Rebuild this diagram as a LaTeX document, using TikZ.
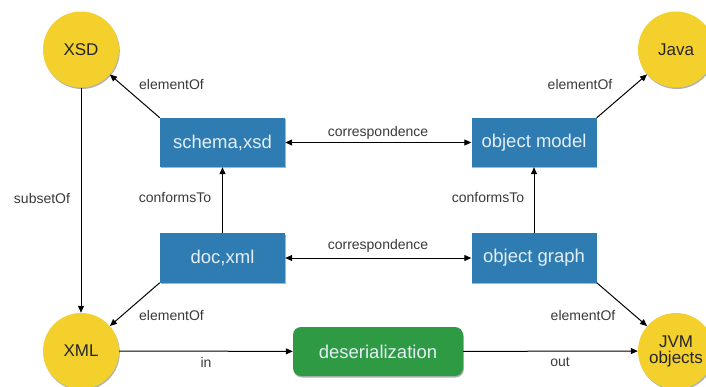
\documentclass[tikz,border=0pt]{standalone}
\usepackage{fontspec}
\setmainfont{Liberation Sans}
\usetikzlibrary{arrows.meta,shadows}
\definecolor{setyellow}{HTML}{F4D02C}
\definecolor{modelblue}{HTML}{2E7CB1}
\definecolor{procgreen}{HTML}{2F9A44}
\definecolor{labelgray}{HTML}{3A3A3A}
\definecolor{boxtext}{HTML}{E4EEF6}

\begin{document}
\begin{tikzpicture}[x=1pt,y=-1pt,
  softshadow/.style={drop shadow={shadow xshift=0.8pt,shadow yshift=-1.5pt,opacity=0.3,fill=black}},
  setnode/.style={circle,fill=setyellow,minimum size=76pt,inner sep=0pt,
    font=\fontsize{17}{18}\selectfont,text=black!85,align=center,softshadow},
  modelbox/.style={rectangle,fill=modelblue,minimum width=125pt,minimum height=49pt,
    inner sep=0pt,text=boxtext,font=\fontsize{18.5}{20}\selectfont,softshadow},
  procbox/.style={rectangle,rounded corners=8pt,fill=procgreen,minimum width=170pt,
    minimum height=49pt,inner sep=0pt,text=boxtext,font=\fontsize{18.5}{20}\selectfont,softshadow},
  rel/.style={-{Triangle[length=7pt,width=6pt]},line width=1pt,black},
  both/.style={{Triangle[length=7pt,width=6pt]}-{Triangle[length=7pt,width=6pt]},line width=1pt,black},
  lab/.style={font=\fontsize{14}{15}\selectfont,text=labelgray,inner sep=0pt}
]
\useasboundingbox[fill=white] (0,0) rectangle (706,387);

% sets
\node[setnode] (xsd)  at (81,49.5)  {XSD};
\node[setnode] (java) at (676,49.5) {Java};
\node[setnode] (xml)  at (81,351)   {XML};
\node[setnode] (jvm)  at (676,351)  {JVM\\[-2pt]objects};

% models
\node[modelbox] (schema) at (222.5,142.5) {schema,xsd};
\node[modelbox] (omodel) at (534,142.5)   {object model};
\node[modelbox] (doc)    at (222.5,258)   {doc,xml};
\node[modelbox] (ograph) at (534,258)     {object graph};

% process
\node[procbox] (deser) at (378,351.5) {deserialization};

% relations
\draw[rel] (schema.north west) -- (xsd);
\draw[rel] (omodel.north east) -- (java);
\draw[rel] (doc.south west) -- (xml);
\draw[rel] (ograph.south east) -- (jvm);
\draw[rel] (xsd) -- (xml);
\draw[rel] (doc) -- (schema);
\draw[rel] (ograph) -- (omodel);
\draw[both] (schema) -- (omodel);
\draw[both] (doc) -- (ograph);
\draw[rel] (xml) -- (deser);
\draw[rel] (deser) -- (jvm);

% labels
\node[lab] (l1)  at (171.5,84)  {elementOf};
\node[lab] (l2)  at (580,84)    {elementOf};
\node[lab] (l3)  at (171.5,315) {elementOf};
\node[lab] (l4)  at (583,315)   {elementOf};
\node[lab] (l5)  at (42,198)    {subsetOf};
\node[lab] (l6)  at (175,198)   {conformsTo};
\node[lab] (l7)  at (488,198)   {conformsTo};
\node[lab] (l8)  at (378,133)   {correspondence};
\node[lab] (l9)  at (378,246)   {correspondence};
\node[lab] (l10) at (206,362)   {in};
\node[lab] (l11) at (560,362)   {out};
\end{tikzpicture}
\end{document}
